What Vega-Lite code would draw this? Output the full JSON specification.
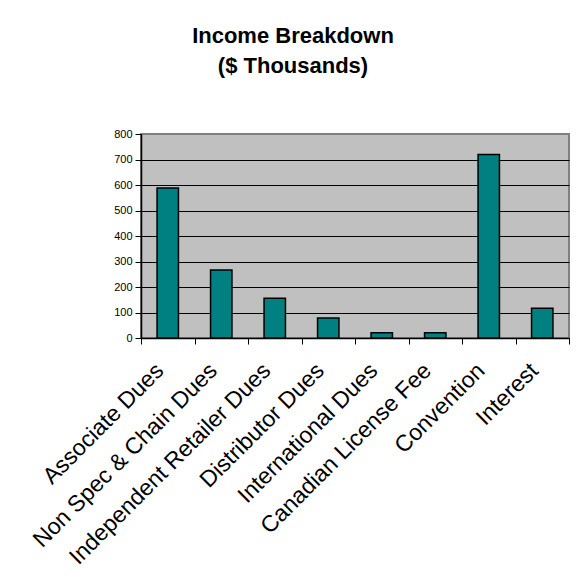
{
  "$schema": "https://vega.github.io/schema/vega-lite/v6.json",
  "width": 428,
  "height": 204,
  "autosize": {"type": "none"},
  "padding": {"left": 141, "top": 134, "right": 13, "bottom": 238},
  "background": "white",
  "title": {
    "text": ["Income Breakdown", "($ Thousands)"],
    "font": "Liberation Sans",
    "fontSize": 22,
    "fontWeight": "bold",
    "color": "black",
    "lineHeight": 30,
    "anchor": "middle",
    "frame": "group",
    "dx": -62,
    "baseline": "bottom",
    "offset": 28
  },
  "data": {
    "values": [
      {"category": "Associate Dues", "amount": 588},
      {"category": "Non Spec & Chain Dues", "amount": 267},
      {"category": "Independent Retailer Dues", "amount": 156},
      {"category": "Distributor Dues", "amount": 78},
      {"category": "International Dues", "amount": 21},
      {"category": "Canadian License Fee", "amount": 21},
      {"category": "Convention", "amount": 720},
      {"category": "Interest", "amount": 117}
    ]
  },
  "mark": {
    "type": "bar",
    "color": "#008080",
    "stroke": "black",
    "strokeWidth": 1.5,
    "width": {"band": 0.4}
  },
  "encoding": {
    "x": {
      "field": "category",
      "type": "nominal",
      "sort": null,
      "scale": {"paddingInner": 0, "paddingOuter": 0},
      "axis": {
        "title": null,
        "labelAngle": -45,
        "labelAlign": "right",
        "labelBaseline": "top",
        "labelFont": "Liberation Sans",
        "labelFontSize": 23,
        "labelColor": "black",
        "labelPadding": 15,
        "labelOffset": -16,
        "labelLimit": 500,
        "labelOverlap": false,
        "tickBand": "extent",
        "tickSize": 6,
        "tickColor": "black",
        "tickWidth": 1,
        "domainColor": "black",
        "domainWidth": 1.5,
        "grid": false
      }
    },
    "y": {
      "field": "amount",
      "type": "quantitative",
      "scale": {"domain": [0, 800], "nice": false},
      "axis": {
        "title": null,
        "values": [0, 100, 200, 300, 400, 500, 600, 700, 800],
        "labelFont": "Liberation Sans",
        "labelFontSize": 11,
        "labelColor": "black",
        "labelPadding": 3,
        "tickSize": 6,
        "tickColor": "black",
        "domainColor": "black",
        "domainWidth": 1.5,
        "grid": true,
        "gridColor": "black",
        "gridWidth": 1,
        "gridOpacity": {"condition": {"test": "datum.value == 800", "value": 0}, "value": 1}
      }
    }
  },
  "config": {
    "view": {"fill": "#C0C0C0", "stroke": "#808080", "strokeWidth": 2}
  }
}
